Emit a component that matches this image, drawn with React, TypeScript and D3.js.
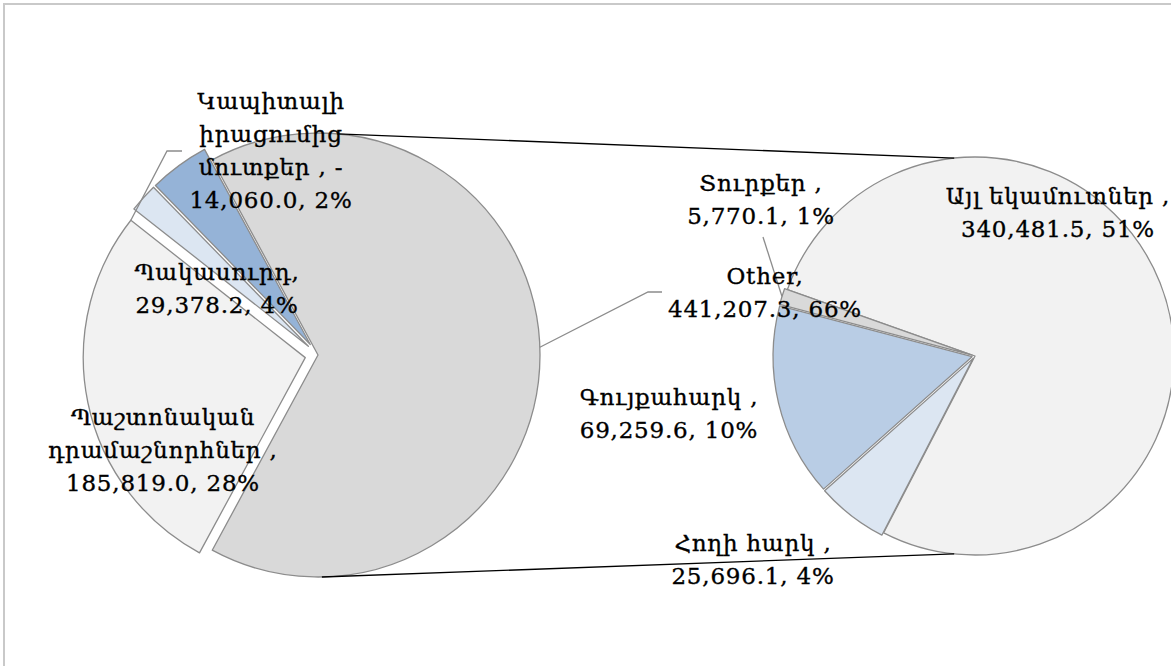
import { useEffect, useRef } from 'react'
import * as d3 from 'd3'

const WIDTH = 1171
const HEIGHT = 666

// first pie, the "Other" slice is the sum of the second pie
const primaryNames = ['Պաշտոնական\nդրամաշնորհներ ', 'Կապիտալի\nիրացումից\nմուտքեր ', 'Պակասուրդ']
const primaryValues = [185819.0, -14060.0, 29378.2]
const primaryColors = ['#f2f2f2', '#dce6f2', '#95b3d7']

// second pie, breakdown of "Other"
const secondaryNames = ['Այլ եկամուտներ ', 'Հողի հարկ ', 'Գույքահարկ ', 'Տուրքեր ']
const secondaryValues = [340481.5, 25696.1, 69259.6, 5770.1]
const secondaryColors = ['#f2f2f2', '#dce6f2', '#b9cde5', '#d9d9d9']

const OTHER_NAME = 'Other'
const OTHER_COLOR = '#d9d9d9'

const LEFT = { cx: 318, cy: 355, r: 222, explode: 13 }
const RIGHT = { cx: 975, cy: 356, r: 199, explode: 3, start: -70.5 }

// label placement: centre x, first baseline
const LABEL_POS: Record<string, [number, number]> = {
  [OTHER_NAME]: [765, 284],
  'Պաշտոնական\nդրամաշնորհներ ': [163, 425],
  'Պակասուրդ': [217, 280],
  'Կապիտալի\nիրացումից\nմուտքեր ': [271, 109],
  'Այլ եկամուտներ ': [1058, 204],
  'Հողի հարկ ': [753, 551],
  'Գույքահարկ ': [669, 405],
  'Տուրքեր ': [761, 191],
}
const LINE_HEIGHT = 33

interface SliceDatum {
  name: string
  value: number
  color: string
  startAngle: number
  endAngle: number
  dx: number
  dy: number
}

const fmt = d3.format(',.1f')

export default function App() {
  const svgRef = useRef<SVGSVGElement | null>(null)

  useEffect(() => {
    if (!svgRef.current) {
      return
    }
    const svg = d3.select(svgRef.current)
    svg.selectAll('*').remove()

    const otherValue = d3.sum(secondaryValues)
    const total = otherValue + d3.sum(primaryValues, (v) => Math.abs(v))
    const otherAngle = (2 * Math.PI * otherValue) / total

    const leftPie = d3
      .pie<number>()
      .sort(null)
      .value((v) => v)
      .startAngle(Math.PI / 2 - otherAngle / 2)
      .endAngle(Math.PI / 2 - otherAngle / 2 + 2 * Math.PI)

    const leftNames = [OTHER_NAME, ...primaryNames]
    const leftValues = [otherValue, ...primaryValues]
    const leftColors = [OTHER_COLOR, ...primaryColors]

    const leftSlices: SliceDatum[] = leftPie(leftValues.map(Math.abs)).map((d, i) => {
      const mid = (d.startAngle + d.endAngle) / 2
      const off = i === 0 ? 0 : LEFT.explode
      return {
        name: leftNames[i],
        value: leftValues[i],
        color: leftColors[i],
        startAngle: d.startAngle,
        endAngle: d.endAngle,
        dx: off * Math.sin(mid),
        dy: -off * Math.cos(mid),
      }
    })

    const rightStart = (RIGHT.start * Math.PI) / 180
    const rightPie = d3
      .pie<number>()
      .sort(null)
      .value((v) => v)
      .startAngle(rightStart)
      .endAngle(rightStart + 2 * Math.PI)

    const rightSlices: SliceDatum[] = rightPie(secondaryValues).map((d, i) => {
      const mid = (d.startAngle + d.endAngle) / 2
      const off = i === 0 ? 0 : RIGHT.explode
      return {
        name: secondaryNames[i],
        value: secondaryValues[i],
        color: secondaryColors[i],
        startAngle: d.startAngle,
        endAngle: d.endAngle,
        dx: off * Math.sin(mid),
        dy: -off * Math.cos(mid),
      }
    })

    const pointOn = (geo: typeof LEFT, s: SliceDatum | null, angle: number, rr = geo.r) => [
      geo.cx + (s ? s.dx : 0) + rr * Math.sin(angle),
      geo.cy + (s ? s.dy : 0) - rr * Math.cos(angle),
    ]

    svg
      .append('rect')
      .attr('width', WIDTH)
      .attr('height', HEIGHT)
      .attr('fill', '#ffffff')

    svg
      .append('rect')
      .attr('x', 4)
      .attr('y', 4)
      .attr('width', WIDTH + 20)
      .attr('height', HEIGHT + 20)
      .attr('fill', 'none')
      .attr('stroke', '#c9c9c9')
      .attr('stroke-width', 2)

    const drawPie = (geo: typeof LEFT, slices: SliceDatum[]) => {
      const arc = d3
        .arc<SliceDatum>()
        .innerRadius(0)
        .outerRadius(geo.r)
      svg
        .append('g')
        .selectAll('path')
        .data(slices)
        .enter()
        .append('path')
        .attr('transform', (d: SliceDatum) => `translate(${geo.cx + d.dx}, ${geo.cy + d.dy})`)
        .attr('d', (d: SliceDatum) => arc(d))
        .attr('fill', (d: SliceDatum) => d.color)
        .attr('stroke', '#8c8c8c')
        .attr('stroke-width', 1.3)
        .attr('stroke-linejoin', 'round')
    }

    drawPie(LEFT, leftSlices)
    drawPie(RIGHT, rightSlices)

    // connector lines between the pies
    const deg = Math.PI / 180
    const connectors = [
      [pointOn(LEFT, null, 5 * deg), pointOn(RIGHT, null, -6 * deg)],
      [pointOn(LEFT, null, 179 * deg), pointOn(RIGHT, null, 186 * deg)],
    ]
    svg
      .append('g')
      .selectAll('line')
      .data(connectors)
      .enter()
      .append('line')
      .attr('x1', (d: number[][]) => d[0][0])
      .attr('y1', (d: number[][]) => d[0][1])
      .attr('x2', (d: number[][]) => d[1][0])
      .attr('y2', (d: number[][]) => d[1][1])
      .attr('stroke', '#000')
      .attr('stroke-width', 1.4)

    // leader lines
    const other = leftSlices[0]
    const pasht = leftSlices[1]
    const turq = rightSlices[3]
    const leaders = [
      [[182, 151], [167, 151], pointOn(LEFT, pasht, pasht.endAngle)],
      [[662, 292], [648, 292], pointOn(LEFT, other, Math.PI / 2 - 2 * deg)],
      [[763, 237], pointOn(RIGHT, turq, (turq.startAngle + turq.endAngle) / 2)],
    ]
    svg
      .append('g')
      .selectAll('path')
      .data(leaders)
      .enter()
      .append('path')
      .attr('d', (d: number[][]) => d3.line()(d as [number, number][]))
      .attr('fill', 'none')
      .attr('stroke', '#8c8c8c')
      .attr('stroke-width', 1.3)

    // data labels
    const labelLines = (s: SliceDatum) => {
      const lines = s.name.split('\n')
      const last = lines.length - 1
      lines[last] = lines[last] + (s.value < 0 ? ', -' : ',')
      const pct = Math.round((Math.abs(s.value) / total) * 100)
      lines.push(`${fmt(Math.abs(s.value))}, ${pct}%`)
      return lines
    }

    const labels = svg
      .append('g')
      .attr('font-family', '"DejaVu Serif", "Liberation Serif", serif')
      .attr('font-size', 23)
      .attr('letter-spacing', 0.8)
      .attr('fill', '#000')
      .attr('stroke', '#000')
      .attr('stroke-width', 0.35)
      .attr('text-anchor', 'middle')

    ;[...leftSlices, ...rightSlices].forEach((s) => {
      const [x, y] = LABEL_POS[s.name]
      const text = labels.append('text').attr('x', x).attr('y', y)
      labelLines(s).forEach((line, i) => {
        text
          .append('tspan')
          .attr('x', x)
          .attr('y', y + i * LINE_HEIGHT)
          .text(line)
      })
    })
  }, [])

  return (
    <svg
      ref={svgRef}
      width={WIDTH}
      height={HEIGHT}
      style={{ position: 'absolute', left: 0, top: 0, display: 'block' }}
    />
  )
}
